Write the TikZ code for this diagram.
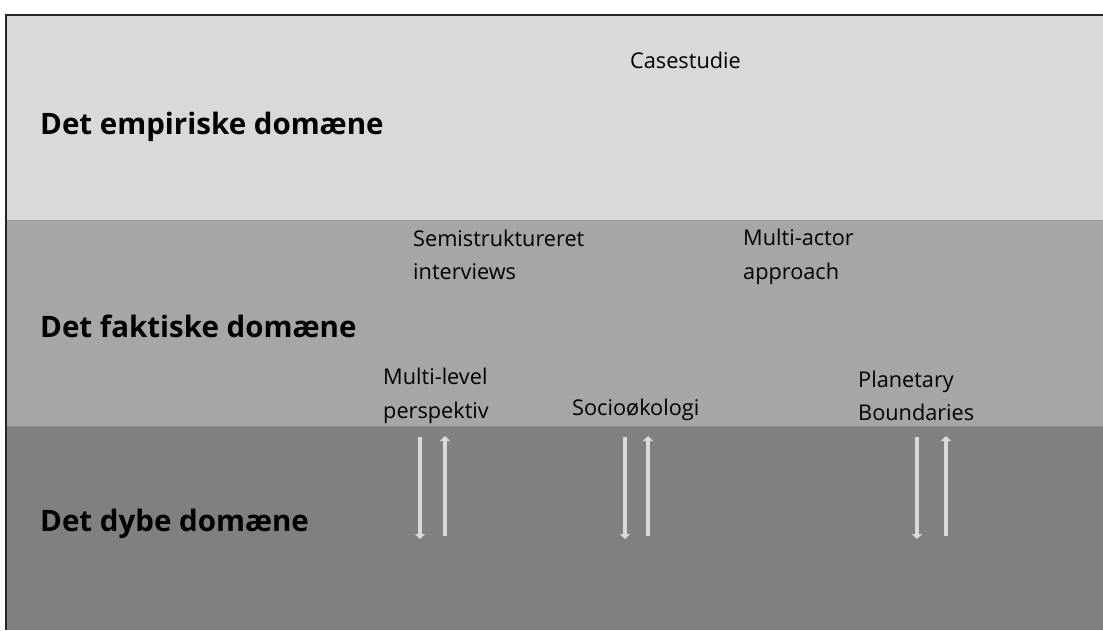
\documentclass[tikz,border=0pt]{standalone}
\usepackage{fontspec}
\setmainfont{Open Sans}
\usetikzlibrary{arrows.meta}
\definecolor{bandA}{HTML}{D9D9D9}
\definecolor{bandB}{HTML}{A6A6A6}
\definecolor{bandC}{HTML}{808080}
\definecolor{arrowc}{HTML}{DADADA}
\tikzset{
  head/.style={font=\fontsize{29.5}{34}\selectfont\bfseries, anchor=west, inner sep=0pt},
  lbl/.style={font=\fontsize{21.7}{33.5}\selectfont, anchor=west, align=left, inner sep=0pt},
  flow/.style={draw=arrowc, line width=4.5pt, -{Triangle[width=10pt,length=5pt]}},
}
\begin{document}
\begin{tikzpicture}[x=1pt,y=-1pt]
\useasboundingbox (0,0) rectangle (1103,630);
\fill[white] (0,0) rectangle (1103,630);
% bands
\fill[bandA] (7,16) rectangle (1103,220);
\fill[bandB] (7,220) rectangle (1103,426);
\fill[bandC] (7,426) rectangle (1103,630);
\draw[line width=0.8pt, black!40] (7,220) -- (1103,220);
\draw[line width=0.8pt, black!45] (7,426) -- (1103,426);
% borders
\draw[line width=2pt, black!85] (6,630) -- (6,15) -- (1103,15);
% headings
\node[head] (emp) at (40,127) {Det empiriske domæne};
\node[head] (fak) at (40,326) {Det faktiske domæne};
\node[head] (dyb) at (40,524) {Det dybe domæne};
% labels
\node[lbl] (case) at (630,60) {Casestudie};
\node[lbl] (semi) at (413,255) {Semistruktureret\\interviews};
\node[lbl] (mact) at (743,257) {Multi-actor\\approach};
\node[lbl] (mlp) at (383,396) {Multi-level\\perspektiv};
\node[lbl] (soc) at (572,410) {Socioøkologi};
\node[lbl] (pb) at (858,396) {Planetary\\Boundaries};
% arrow coordinates
\coordinate (a1t) at (420,437); \coordinate (a1b) at (420,539);
\coordinate (a2t) at (445,436); \coordinate (a2b) at (445,536);
\coordinate (b1t) at (625,437); \coordinate (b1b) at (625,539);
\coordinate (b2t) at (648,436); \coordinate (b2b) at (648,536);
\coordinate (c1t) at (917,437); \coordinate (c1b) at (917,539);
\coordinate (c2t) at (946,436); \coordinate (c2b) at (946,536);
\draw[flow] (a1t) -- (a1b);
\draw[flow] (a2b) -- (a2t);
\draw[flow] (b1t) -- (b1b);
\draw[flow] (b2b) -- (b2t);
\draw[flow] (c1t) -- (c1b);
\draw[flow] (c2b) -- (c2t);
\end{tikzpicture}
\end{document}
